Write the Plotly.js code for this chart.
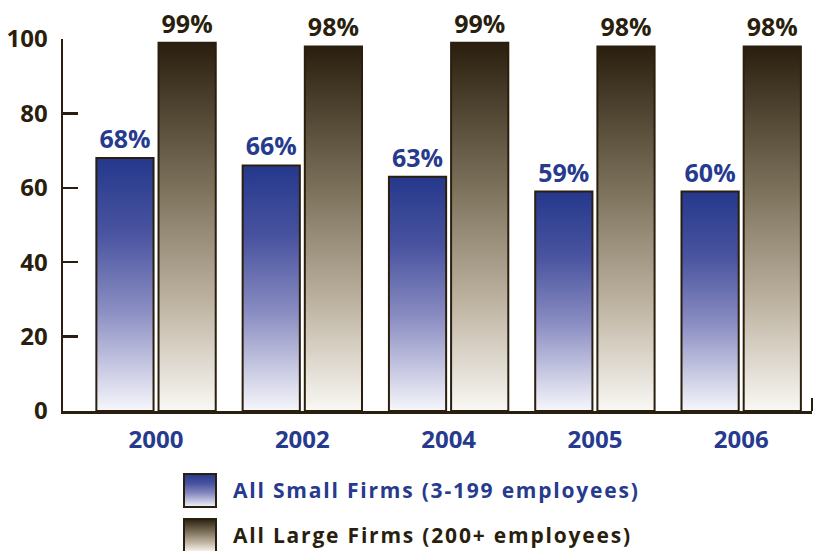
<!DOCTYPE html>
<html>
<head>
<meta charset="utf-8">
<script src="https://cdn.plot.ly/plotly-3.0.1.min.js"></script>
<style>
html,body{margin:0;padding:0;background:#fff;}
#chart{width:813px;height:551px;}
</style>
</head>
<body>
<div id="chart"></div>
<script>
// ---- data ----
var years = ["2000", "2002", "2004", "2005", "2006"];
var smallFirms = [68, 66, 63, 59, 59];
var smallLabels = ["68%", "66%", "63%", "59%", "60%"];
var largeFirms = [99, 98, 99, 98, 98];
var largeLabels = ["99%", "98%", "99%", "98%", "98%"];
var seriesNames = ["All Small Firms (3-199 employees)", "All Large Firms (200+ employees)"];
var yTicks = [0, 20, 40, 60, 80, 100];

// ---- styles ----
var DARK = "#2a1f0e";
var BLUE = "#263a8e";
var FONT = "Open Sans, Noto Sans, sans-serif";

var W = 813, H = 551;
var M = {l: 63, r: 1, t: 39, b: 140};
var PW = W - M.l - M.r, PH = H - M.t - M.b;
function px(x) { return (x - M.l) / PW; }
function py(y) { return (M.t + PH - y) / PH; }

var traceSmall = {
  type: "bar", x: years, y: smallFirms, name: seriesNames[0],
  text: smallLabels, textposition: "outside", cliponaxis: false, constraintext: "none",
  textfont: {family: FONT, size: 25, color: BLUE, weight: 700},
  marker: {color: "#5a62a6", line: {color: DARK, width: 2}},
  hoverinfo: "none"
};
var traceLarge = {
  type: "bar", x: years, y: largeFirms, name: seriesNames[1],
  text: largeLabels, textposition: "outside", cliponaxis: false, constraintext: "none",
  textfont: {family: FONT, size: 25, color: DARK, weight: 700},
  marker: {color: "#8f8570", line: {color: DARK, width: 2}},
  hoverinfo: "none"
};

var shapes = [
  // legend swatches
  {type: "rect", xref: "paper", yref: "paper", x0: px(184), x1: px(216), y0: py(474), y1: py(507),
   line: {color: DARK, width: 2}, fillcolor: "#5a62a6"},
  {type: "rect", xref: "paper", yref: "paper", x0: px(184), x1: px(216), y0: py(519), y1: py(552),
   line: {color: DARK, width: 2}, fillcolor: "#8f8570"},
  // small end tick on x axis
  {type: "line", xref: "paper", yref: "paper", x0: 1, x1: 1, y0: 0, y1: 13 / PH,
   line: {color: DARK, width: 2}}
];

var annotations = [
  {xref: "paper", yref: "paper", x: px(231), y: py(490), xanchor: "left", yanchor: "middle",
   text: seriesNames[0], showarrow: false, font: {family: FONT, size: 21, color: BLUE, weight: 700}},
  {xref: "paper", yref: "paper", x: px(231), y: py(535), xanchor: "left", yanchor: "middle",
   text: seriesNames[1], showarrow: false, font: {family: FONT, size: 21, color: DARK, weight: 700}}
];

var layout = {
  width: W, height: H,
  margin: M,
  paper_bgcolor: "#fff", plot_bgcolor: "#fff",
  showlegend: false,
  barmode: "group", bargap: 0.15, bargroupgap: 0.08,
  xaxis: {
    type: "category", range: [-0.636, 4.484],
    showline: true, linecolor: DARK, linewidth: 2.5,
    ticks: "", showgrid: false, zeroline: false,
    tickfont: {family: FONT, size: 24, color: BLUE, weight: 700},
    ticklabelstandoff: 6
  },
  yaxis: {
    range: [0, 100], tickvals: yTicks,
    showline: true, linecolor: DARK, linewidth: 2.5,
    ticks: "inside", ticklen: 15, tickwidth: 2.5, tickcolor: DARK,
    showgrid: false, zeroline: false,
    tickfont: {family: FONT, size: 24, color: DARK, weight: 700},
    ticklabelstandoff: 8
  },
  shapes: shapes,
  annotations: annotations
};

function addGradients(gd) {
  var svg = gd.querySelector("svg.main-svg");
  var ns = "http://www.w3.org/2000/svg";
  var defs = svg.querySelector("defs") || svg.insertBefore(document.createElementNS(ns, "defs"), svg.firstChild);
  function grad(id, stops) {
    var g = document.createElementNS(ns, "linearGradient");
    g.setAttribute("id", id);
    g.setAttribute("x1", "0"); g.setAttribute("y1", "0");
    g.setAttribute("x2", "0"); g.setAttribute("y2", "1");
    stops.forEach(function (s) {
      var st = document.createElementNS(ns, "stop");
      st.setAttribute("offset", s[0]);
      st.setAttribute("stop-color", s[1]);
      g.appendChild(st);
    });
    defs.appendChild(g);
  }
  grad("gradBlue", [[0, "#25388c"], [0.3, "#4a54a0"], [0.6, "#8a8dc2"], [1, "#f6f6fb"]]);
  grad("gradDark", [[0, "#2a1f0e"], [0.4, "#7d735d"], [0.7, "#bdb2a0"], [1, "#f9f8f4"]]);
  var traces = gd.querySelectorAll(".barlayer .trace");
  traces.forEach(function (t, i) {
    t.querySelectorAll(".point path").forEach(function (p) {
      p.style.fill = i === 0 ? "url(#gradBlue)" : "url(#gradDark)";
    });
  });
  var s0 = gd.querySelector('.shapelayer path[data-index="0"]');
  var s1 = gd.querySelector('.shapelayer path[data-index="1"]');
  if (s0) s0.style.fill = "url(#gradBlue)";
  if (s1) s1.style.fill = "url(#gradDark)";
  // widen legend text to match the reference typeface's spacing, keeping its left edge
  gd.querySelectorAll(".annotation-text").forEach(function (t) {
    var before = t.getBBox().x;
    t.style.letterSpacing = "1.8px";
    var after = t.getBBox().x;
    var dx = before - after;
    var x0 = parseFloat(t.getAttribute("x") || "0");
    t.setAttribute("x", x0 + dx);
    t.querySelectorAll("tspan[x]").forEach(function (s) {
      s.setAttribute("x", parseFloat(s.getAttribute("x")) + dx);
    });
  });
}

var gd = document.getElementById("chart");
Plotly.newPlot(gd, [traceSmall, traceLarge], layout, {staticPlot: true, displayModeBar: false})
  .then(addGradients);
</script>
</body>
</html>
